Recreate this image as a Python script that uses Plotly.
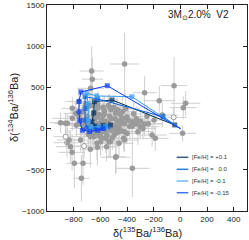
import plotly.graph_objects as go

# ---------------- grain data (grey points with error bars) ----------------
grain_x = [-418, -665, -660, -673, -47, -268, -158, 40, 22, 17,
           -135, -197, -268, -318, -418, -418, -485, -360, -810, -848,
           -823, -622, -598, -535, -660, -850, -812, -795, -730, -742,
           -482, -675, -625, -558, -525, -600, -425, -212, -188, -862,
           -362, -450, -300, -553, -898, -585, -673, -622, -497, -460,
           -460, -748, -835, -422, -435, -485, -785, -810, -700, -640,
           -580, -520, -560, -610, -690, -720, -650, -600, -540, -500,
           -470, -440, -400, -380, -620, -570, -530, -680, -710, -760,
           -640, -590, -550, -510, -480, -450, -410, -350, -330, -560,
           -600, -650, -700, -740, -620, -520, -480, -390, -280, -240,
           -760, -730, -700, -660, -620, -580, -540, -500, -470, -650,
           -610, -570, -530, -490, -450, -420, -700, -660, -620, -580,
           -540, -500, -460, -640, -600, -560, -520, -480, -440, -780,
           -740, -690, -650, -550, -510, -400, -360, -330, -300, -250]
grain_y = [784, 699, 600, 489, 521, 436, 339, 307, 254, -57,
           165, 104, 56, -37, -37, -138, -348, -482, 125, 64,
           -219, -227, -159, -159, -57, -171, -288, -421, -421, -603,
           -341, -251, -179, -118, -159, -98, -118, -78, -118, 64,
           84, 64, 23, -219, 72, -118, -98, -78, -78, -37,
           -179, -138, -138, 125, 205, 185, 185, 246, 150, 200,
           160, 120, 90, 60, 30, 0, -20, 20, 40, 0,
           80, 110, 140, 30, 250, 220, 260, 280, 300, 330,
           120, 100, 70, 30, 200, 170, 240, 180, 60, -40,
           -10, 30, 60, 50, 140, 230, 10, 100, 0, 60,
           150, 200, 250, 280, 300, 260, 280, 260, 230, 150,
           170, 180, 150, 120, 100, 60, 80, 40, 60, 30,
           70, 40, 20, -40, -60, -40, -20, -50, -30, 40,
           100, -70, -100, -80, -110, -60, 30, 120, 90, 150]
grain_ex = [110, 90, 80, 100, 100, 90, 120, 110, 100, 100,
            120, 110, 130, 120, 120, 110, 110, 130, 150, 90,
            110, 120, 100, 110, 90, 100, 100, 60, 70, 60,
            70, 80, 90, 100, 110, 90, 120, 110, 100, 80,
            130, 120, 140, 90, 80, 100, 110, 90, 100, 120,
            110, 80, 90, 130, 110, 100, 90, 80, 90, 100,
            110, 120, 100, 90, 80, 110, 100, 90, 120, 130,
            110, 100, 120, 110, 90, 100, 120, 80, 90, 100,
            110, 120, 100, 110, 100, 120, 110, 100, 110, 100,
            90, 100, 80, 90, 110, 100, 110, 120, 100, 110,
            90, 100, 110, 90, 100, 110, 120, 100, 90, 100,
            110, 90, 100, 110, 120, 100, 90, 100, 110, 100,
            90, 100, 110, 100, 90, 100, 110, 100, 90, 80,
            90, 100, 110, 100, 90, 100, 110, 100, 120, 110]
grain_ey = [380, 300, 260, 250, 350, 200, 180, 150, 140, 100,
            150, 120, 150, 160, 120, 150, 200, 350, 150, 120,
            200, 220, 180, 200, 150, 180, 220, 300, 260, 280,
            200, 220, 200, 180, 200, 160, 150, 140, 150, 120,
            140, 130, 150, 180, 120, 150, 160, 140, 150, 130,
            160, 140, 120, 160, 180, 170, 150, 140, 150, 160,
            150, 140, 130, 150, 160, 140, 150, 130, 140, 150,
            160, 170, 150, 140, 180, 170, 160, 170, 180, 160,
            150, 140, 150, 160, 170, 150, 180, 150, 140, 150,
            140, 150, 160, 150, 170, 160, 150, 140, 130, 150,
            130, 140, 150, 160, 150, 140, 130, 150, 140, 130,
            140, 150, 130, 140, 150, 130, 140, 130, 150, 140,
            130, 140, 150, 140, 130, 150, 140, 130, 140, 130,
            140, 150, 160, 140, 150, 130, 140, 150, 130, 140]

open_x = [-50, -860, -722]
open_y = [137, -98, -211]
open_ex = [100, 90, 80]
open_ey = [120, 130, 150]

# ---------------- model curves ----------------
labels = ["[Fe/H] = +0.1", "[Fe/H] =   0.0", "[Fe/H] = -0.1", "[Fe/H] = -0.15"]
m_p01_x = [0, -42, -512, -645, -650, -662, -640, -580, -525]
m_p01_y = [0, 44, 347, 327, 190, 84, 30, 40, 44]
m_000_x = [0, -130, -620, -715, -715, -715, -700, -640, -580, -545]
m_000_y = [0, 145, 360, 387, 246, 102, 10, 0, 10, 20]
m_m01_x = [0, -363, -628, -703, -690, -690, -670, -610, -560]
m_m01_y = [0, 387, 396, 428, 300, 100, 20, 20, 25]
m_m015_x = [0, -548, -745, -760, -760, -755, -735, -680, -620, -580]
m_m015_y = [0, 521, 445, 330, 205, 96, -20, -35, -20, 0]

model_x = [m_p01_x, m_000_x, m_m01_x, m_m015_x]
model_y = [m_p01_y, m_000_y, m_m01_y, m_m015_y]
marker_colors = ["#00315f", "#0a64d6", "#3c9ff0", "#0a3cf5"]
legend_colors = ["#3d5a85", "#2f7fd8", "#78b8f2", "#4470ee"]

x_ticks = [-800, -600, -400, -200, 0, 200, 400]
y_ticks = [-1000, -500, 0, 500, 1000, 1500]

fig = go.Figure()

fig.add_trace(go.Scatter(
    x=grain_x, y=grain_y, mode="markers",
    error_x=dict(type="data", array=grain_ex, color="#cfcfcf", thickness=1, width=0),
    error_y=dict(type="data", array=grain_ey, color="#cfcfcf", thickness=1, width=0),
    marker=dict(color="#9a9a9a", size=5.5), showlegend=False))
fig.add_trace(go.Scatter(
    x=open_x, y=open_y, mode="markers",
    error_x=dict(type="data", array=open_ex, color="#cfcfcf", thickness=1, width=0),
    error_y=dict(type="data", array=open_ey, color="#cfcfcf", thickness=1, width=0),
    marker=dict(color="white", size=5, line=dict(color="#9a9a9a", width=1)), showlegend=False))

for i in range(4):
    xs, ys = model_x[i], model_y[i]
    sizes = [0] + [5] * (len(xs) - 1)
    fig.add_trace(go.Scatter(
        x=xs, y=ys, mode="lines+markers", name=labels[i],
        line=dict(color=marker_colors[i], width=1),
        marker=dict(symbol="square", size=sizes, color=marker_colors[i],
                    line=dict(width=0)),
        showlegend=False))

# manual legend
leg_y = [0.2607, 0.2024, 0.1456, 0.0888]
for i in range(4):
    fig.add_shape(type="line", xref="paper", yref="paper",
                  x0=0.6485, x1=0.7065, y0=leg_y[i], y1=leg_y[i],
                  line=dict(color=legend_colors[i], width=1.5))
    fig.add_annotation(xref="paper", yref="paper", x=0.715, y=leg_y[i],
                       text=labels[i], showarrow=False, xanchor="left", yanchor="middle",
                       font=dict(size=6, color="#333333", family="Liberation Sans"))

fig.add_annotation(xref="paper", yref="paper", x=0.7575, y=0.951,
                   text="3M<sub>⊙</sub>2.0%  V2", showarrow=False,
                   xanchor="center", yanchor="middle",
                   font=dict(size=10, color="#222222", family="Liberation Sans"))

# axis titles
fig.add_annotation(xref="paper", yref="paper", x=0.5, y=-0.1,
                   text="δ(<sup>135</sup>Ba/<sup>136</sup>Ba)", showarrow=False,
                   xanchor="center", yanchor="middle",
                   font=dict(size=11, color="#222222", family="Liberation Sans"))
fig.add_annotation(xref="paper", yref="paper", x=-0.17, y=0.5, textangle=-90,
                   text="δ(<sup>134</sup>Ba/<sup>136</sup>Ba)", showarrow=False,
                   xanchor="center", yanchor="middle",
                   font=dict(size=11, color="#222222", family="Liberation Sans"))

axis_common = dict(showgrid=False, zeroline=False, showline=True, linecolor="#222222",
                   linewidth=1, mirror="ticks", ticks="inside", ticklen=4,
                   tickcolor="#222222", tickwidth=1, automargin=False,
                   tickfont=dict(size=8, color="#222222", family="Liberation Sans"))
fig.update_xaxes(range=[-1000, 500], tickvals=x_ticks, **axis_common)
fig.update_yaxes(range=[-1000, 1500], tickvals=y_ticks, **axis_common)

fig.update_layout(width=249, height=240, margin=dict(l=47, r=2, t=5, b=29, autoexpand=False),
                  paper_bgcolor="white", plot_bgcolor="white")

fig.write_html("out.html", config={"displayModeBar": False, "staticPlot": True},
               post_script="document.body.style.margin='0';document.body.style.overflow='hidden';")
